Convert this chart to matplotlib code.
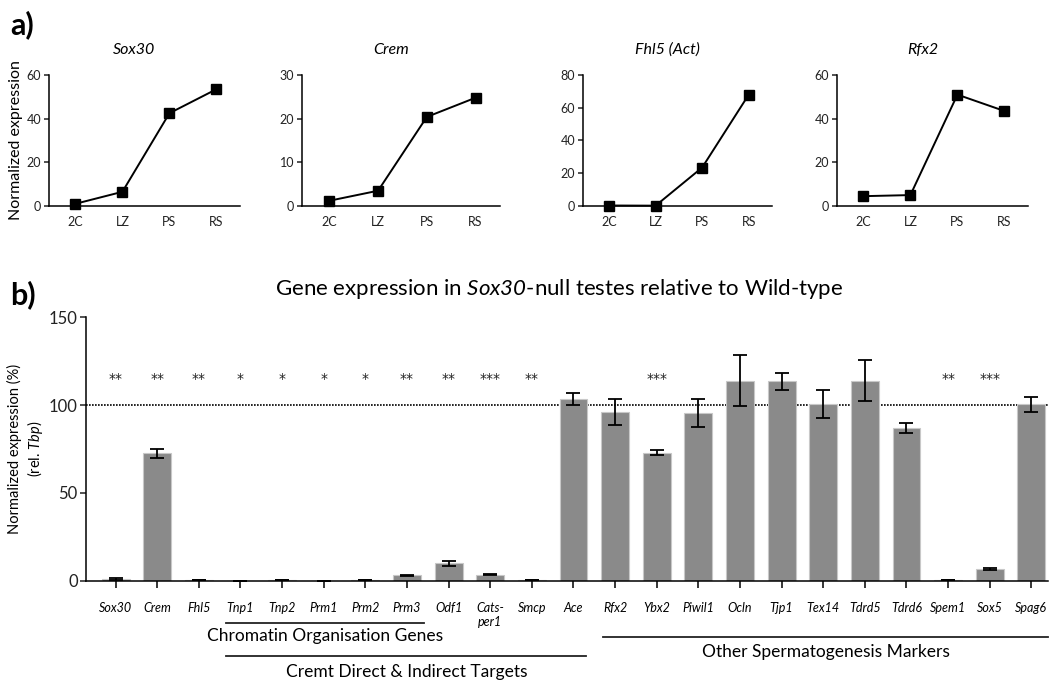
import numpy as np
import matplotlib
matplotlib.use("Agg")
import matplotlib.pyplot as plt
import matplotlib.transforms as mtransforms

plt.rcParams['font.family'] = ['Lato', 'DejaVu Sans']
plt.rcParams['mathtext.fontset'] = 'custom'
plt.rcParams['mathtext.it'] = 'Lato:italic'
plt.rcParams['mathtext.rm'] = 'Lato:italic'

# ---- panel a data ----
stages = ['2C', 'LZ', 'PS', 'RS']
sox30_a = [1.0, 6.5, 42.5, 53.5]
crem_a = [1.2, 3.5, 20.4, 24.8]
fhl5_a = [0.3, 0.2, 23.5, 68.0]
rfx2_a = [4.5, 5.0, 51.0, 43.5]
a_titles = ['Sox30', 'Crem', 'Fhl5 (Act)', 'Rfx2']
a_ymax = [60, 30, 80, 60]
a_ystep = [20, 10, 20, 20]

# ---- panel b data ----
genes = ['Sox30', 'Crem', 'Fhl5', 'Tnp1', 'Tnp2', 'Prm1', 'Prm2', 'Prm3', 'Odf1',
         'Cats-\nper1', 'Smcp', 'Ace', 'Rfx2', 'Ybx2', 'Piwil1', 'Ocln', 'Tjp1',
         'Tex14', 'Tdrd5', 'Tdrd6', 'Spem1', 'Sox5', 'Spag6']
expr = [1.0, 72.5, 0.5, 0.1, 0.3, 0.1, 0.5, 3.0, 10.0, 3.5, 0.3, 103.5, 96.0,
        73.0, 95.5, 114.0, 113.5, 100.5, 114.0, 87.0, 0.3, 6.6, 100.5]
err = [0.4, 2.5, 0.1, 0.0, 0.1, 0.0, 0.1, 0.5, 1.5, 0.5, 0.1, 3.5, 7.5,
       1.2, 8.0, 14.5, 5.0, 8.0, 11.7, 2.7, 0.1, 0.5, 4.2]
stars = ['**', '**', '**', '*', '*', '*', '*', '**', '**', '***', '**', '', '',
         '***', '', '', '', '', '', '', '**', '***', '']

fig = plt.figure(figsize=(10.64, 6.82), dpi=100)

# panel a axes (left, width) in pixels
a_pos = [(49, 191), (302, 198), (583, 189), (837, 191)]
a_series = [sox30_a, crem_a, fhl5_a, rfx2_a]
xs = np.arange(len(stages))
for i, (left, w) in enumerate(a_pos):
    ax = fig.add_axes([left / 1064, 1 - 206 / 682, w / 1064, 131 / 682])
    ax.plot(xs, a_series[i], color='black', lw=1.4, marker='s', ms=7.5,
            clip_on=False, zorder=3)
    ax.set_xlim(-0.56, 3.5)
    ax.set_ylim(0, a_ymax[i])
    ax.set_yticks(np.arange(0, a_ymax[i] + 1, a_ystep[i]))
    ax.set_xticks(xs)
    ax.set_xticklabels(stages)
    for s in ['top', 'right']:
        ax.spines[s].set_visible(False)
    for s in ['left', 'bottom']:
        ax.spines[s].set_linewidth(1.1)
    ax.tick_params(axis='both', labelsize=9, width=1.1, length=3.5, pad=2,
                   colors='#222222')
    ax.tick_params(axis='x', length=0, pad=7)
    fig.text((left + w / 2 - 10) / 1064, 1 - 50 / 682, a_titles[i],
             style='italic', fontsize=11.5, ha='center', va='center')
    if i == 0:
        ax.set_ylabel('Normalized expression', fontsize=11.5, labelpad=3)

fig.text(10 / 1064, 1 - 25 / 682, 'a)', fontsize=22, fontweight='bold',
         ha='left', va='center')
fig.text(10 / 1064, 1 - 295 / 682, 'b)', fontsize=22, fontweight='bold',
         ha='left', va='center')

# panel b
axb = fig.add_axes([86 / 1064, 1 - 580.7 / 682, 962 / 1064, 263.4 / 682])
xb = np.arange(len(genes))
axb.bar(xb, expr, width=0.67, color='#8a8a8a', edgecolor='#c8c8c8',
        linewidth=0.8, zorder=2)
axb.errorbar(xb, expr, yerr=err, fmt='none', ecolor='black', elinewidth=1.3,
             capsize=5, capthick=1.3, zorder=3)
axb.axhline(100, color='black', lw=1.2, ls=(0, (1, 0.8)), zorder=1)
for x, s in zip(xb, stars):
    if s:
        axb.text(x, 115, s, ha='center', va='center', fontsize=10,
                 color='#222222', family='DejaVu Sans')
axb.set_xlim(-0.71, 22.4)
axb.set_ylim(0, 150)
axb.set_yticks([0, 50, 100, 150])
axb.set_xticks(xb)
axb.set_xticklabels(genes, style='italic', fontsize=9, linespacing=1.2,
                    va='top')
for s in ['top', 'right']:
    axb.spines[s].set_visible(False)
for s in ['left', 'bottom']:
    axb.spines[s].set_linewidth(1.1)
axb.tick_params(axis='y', labelsize=12, width=1.1, length=4, pad=2,
                colors='#222222')
axb.tick_params(axis='x', width=1.1, length=5, pad=10)
axb.set_ylabel('Normalized expression (%)\n(rel. $Tbp$)',
               fontsize=10.5, labelpad=3, linespacing=1.2)
axb.set_title('Gene expression in $Sox30$-null testes relative to Wild-type',
              fontsize=16, pad=16, x=0.492)

# group brackets under the axis
trans = mtransforms.blended_transform_factory(axb.transData, axb.transAxes)
groups = [
    ('Chromatin Organisation Genes', 2.65, 7.40, -0.161, 5.04, -0.210),
    ('Cremt Direct & Indirect Targets', 2.65, 11.31, -0.286, 6.99, -0.345),
    ('Other Spermatogenesis Markers', 11.70, 22.40, -0.214, 17.06, -0.270),
]
for label, x0, x1, ly, tx, ty in groups:
    axb.plot([x0, x1], [ly, ly], color='#222222', lw=1.3, transform=trans,
             clip_on=False)
    axb.text(tx, ty, label, transform=trans, ha='center', va='center',
             fontsize=12.5)

fig.savefig('out.png', dpi=100)
